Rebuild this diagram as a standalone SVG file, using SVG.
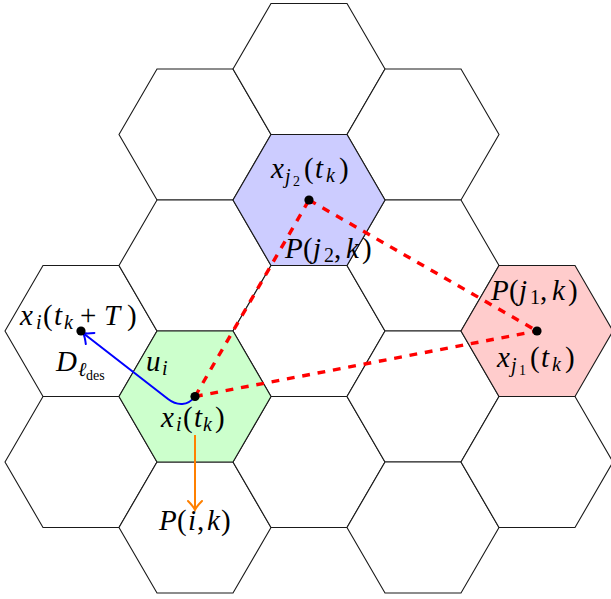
<svg xmlns="http://www.w3.org/2000/svg" xmlns:xlink="http://www.w3.org/1999/xlink" width="611" height="599" viewBox="0 0 611 599">
<style>
.hx{fill:#ffffff;stroke:#1a1a1a;stroke-width:1.1;stroke-linejoin:miter}
.g{fill:#ccffcc}
.b{fill:#ccccff}
.r{fill:#ffcccc}
.dash{fill:none;stroke:#ff0000;stroke-width:3.4;stroke-dasharray:7.8 7.8}
.dot{fill:#000000}
text{font-family:"Liberation Serif","Times New Roman",serif;font-size:29px;fill:#000000}
.it{font-style:italic}
.s{font-size:20px}
.ss{font-size:14px}
</style>
<defs>
<path id="hex" d="M-76,0 L-38,-65.5 L38,-65.5 L76,0 L38,65.5 L-38,65.5 Z"/>
<marker id="ab" viewBox="-12 -9 14 18" markerWidth="14" markerHeight="18" refX="0" refY="0" orient="auto" markerUnits="userSpaceOnUse">
<path d="M-9,-7 Q-3.5,-1.5 0,0 Q-3.5,1.5 -9,7" fill="none" stroke="#0000ff" stroke-width="2" stroke-linecap="round"/>
</marker>
<marker id="ao" viewBox="-12 -9 14 18" markerWidth="14" markerHeight="18" refX="0" refY="0" orient="auto" markerUnits="userSpaceOnUse">
<path d="M-9,-7 Q-3.5,-1.5 0,0 Q-3.5,1.5 -9,7" fill="none" stroke="#ff8000" stroke-width="2" stroke-linecap="round"/>
</marker>
</defs>
<g id="hexes">
<g id="h-81-331"><use xlink:href="#hex" href="#hex" class="hx" transform="translate(81,331)"/></g>
<g id="h-81-462"><use xlink:href="#hex" href="#hex" class="hx" transform="translate(81,462)"/></g>
<g id="h-195-134"><use xlink:href="#hex" href="#hex" class="hx" transform="translate(195,134.5)"/></g>
<g id="h-195-265"><use xlink:href="#hex" href="#hex" class="hx" transform="translate(195,265.5)"/></g>
<g id="h-195-527"><use xlink:href="#hex" href="#hex" class="hx" transform="translate(195,527.5)"/></g>
<g id="h-309-69"><use xlink:href="#hex" href="#hex" class="hx" transform="translate(309,69)"/></g>
<g id="h-309-331"><use xlink:href="#hex" href="#hex" class="hx" transform="translate(309,331)"/></g>
<g id="h-309-462"><use xlink:href="#hex" href="#hex" class="hx" transform="translate(309,462)"/></g>
<g id="h-423-134"><use xlink:href="#hex" href="#hex" class="hx" transform="translate(423,134.5)"/></g>
<g id="h-423-265"><use xlink:href="#hex" href="#hex" class="hx" transform="translate(423,265.5)"/></g>
<g id="h-423-396"><use xlink:href="#hex" href="#hex" class="hx" transform="translate(423,396.5)"/></g>
<g id="h-423-527"><use xlink:href="#hex" href="#hex" class="hx" transform="translate(423,527.5)"/></g>
<g id="h-537-462"><use xlink:href="#hex" href="#hex" class="hx" transform="translate(537,462)"/></g>
<g id="hex-i"><use xlink:href="#hex" href="#hex" class="hx g" transform="translate(195,396.5)"/></g>
<g id="hex-j2"><use xlink:href="#hex" href="#hex" class="hx b" transform="translate(309,200)"/></g>
<g id="hex-j1"><use xlink:href="#hex" href="#hex" class="hx r" transform="translate(537,331)"/></g>
</g>
<g id="connectors">
<path class="dash" d="M195,396.5 L309,200"/>
<path class="dash" d="M309,200 L537,331"/>
<path class="dash" d="M195,396.5 L537,331"/>
<path d="M195,396.5 C188,406 177,406 168,399 L83,333" fill="none" stroke="#0000ff" stroke-width="2" marker-end="url(#ab)"/>
<path d="M195,435 L195,510" fill="none" stroke="#ff8000" stroke-width="2" marker-end="url(#ao)"/>
</g>
<g id="dots">
<circle class="dot" cx="195" cy="396.5" r="4.6"/>
<circle class="dot" cx="309" cy="200" r="4.6"/>
<circle class="dot" cx="537" cy="331" r="4.6"/>
<circle class="dot" cx="81" cy="331" r="4.6"/>
</g>
<g id="labels">
<text><tspan class="it" x="271" y="178">x</tspan><tspan class="s it" x="285" y="183">j</tspan><tspan class="ss" x="293" y="186">2</tspan><tspan x="304" y="178">(</tspan><tspan class="it" x="315" y="178">t</tspan><tspan class="s it" x="326" y="182">k</tspan><tspan x="339" y="178">)</tspan></text>
<text><tspan class="it" x="285" y="258">P</tspan><tspan x="303" y="258">(</tspan><tspan class="it" x="313" y="258">j</tspan><tspan class="s" x="324" y="262">2</tspan><tspan x="334" y="258">,</tspan><tspan class="it" x="346" y="258">k</tspan><tspan x="362" y="258">)</tspan></text>
<text><tspan class="it" x="20" y="325">x</tspan><tspan class="s it" x="36" y="329">i</tspan><tspan x="43" y="325">(</tspan><tspan class="it" x="54" y="325">t</tspan><tspan class="s it" x="64" y="329">k</tspan><tspan x="80" y="325">+</tspan><tspan class="it" x="104" y="325">T</tspan><tspan x="127" y="325">)</tspan></text>
<text><tspan class="it" x="56" y="371">D</tspan><tspan class="s it" x="78" y="376">ℓ</tspan><tspan class="ss" x="86" y="380">des</tspan></text>
<text><tspan class="it" x="146" y="371">u</tspan><tspan class="s it" x="162" y="375">i</tspan></text>
<text><tspan class="it" x="161" y="427">x</tspan><tspan class="s it" x="176" y="431">i</tspan><tspan x="183" y="427">(</tspan><tspan class="it" x="194" y="427">t</tspan><tspan class="s it" x="203" y="431">k</tspan><tspan x="215" y="427">)</tspan></text>
<text><tspan class="it" x="491" y="300">P</tspan><tspan x="509" y="300">(</tspan><tspan class="it" x="519" y="300">j</tspan><tspan class="s" x="530" y="304">1</tspan><tspan x="540" y="300">,</tspan><tspan class="it" x="552" y="300">k</tspan><tspan x="568" y="300">)</tspan></text>
<text><tspan class="it" x="497" y="367">x</tspan><tspan class="s it" x="511" y="372">j</tspan><tspan class="ss" x="519" y="375">1</tspan><tspan x="530" y="367">(</tspan><tspan class="it" x="541" y="367">t</tspan><tspan class="s it" x="552" y="371">k</tspan><tspan x="565" y="367">)</tspan></text>
<text><tspan class="it" x="159" y="530">P</tspan><tspan x="177" y="530">(</tspan><tspan class="it" x="188" y="530">i</tspan><tspan x="197" y="530">,</tspan><tspan class="it" x="207" y="530">k</tspan><tspan x="221" y="530">)</tspan></text>
</g>
</svg>
